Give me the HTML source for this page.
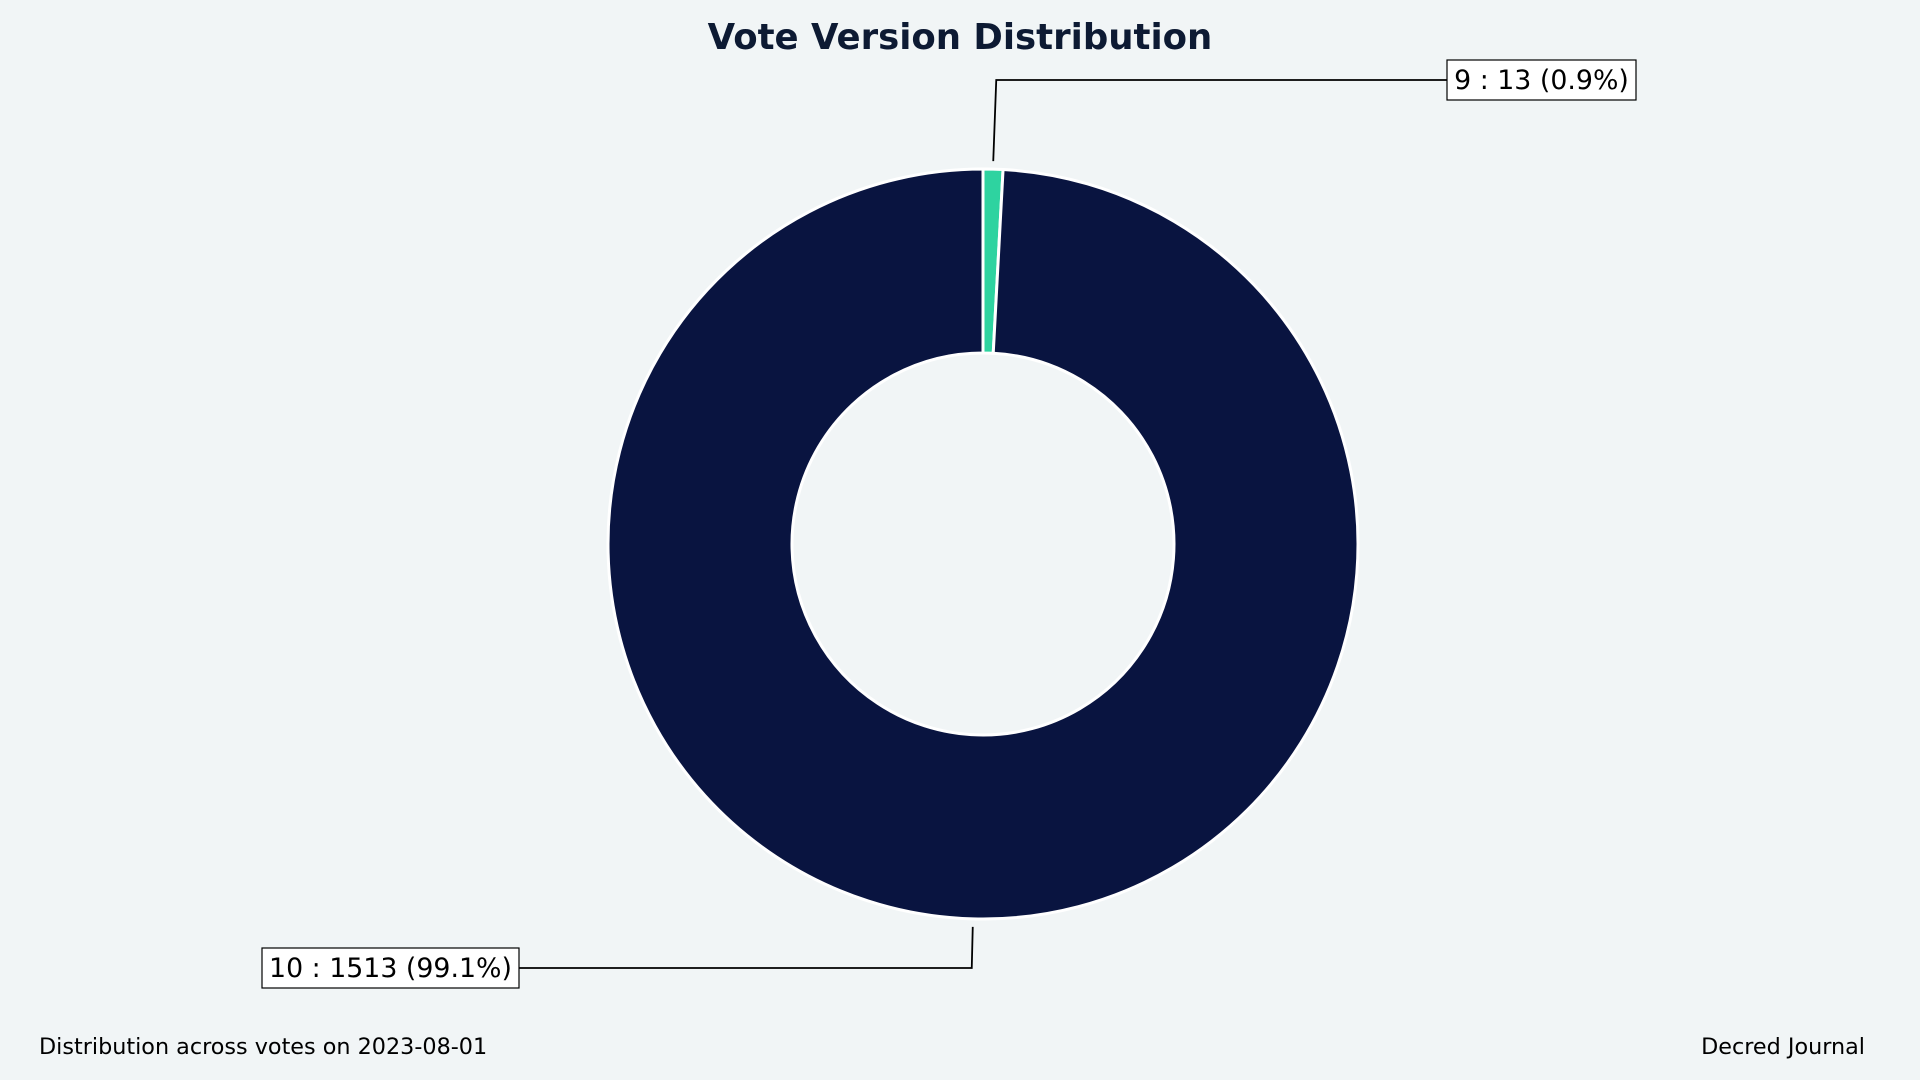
<!DOCTYPE html>
<html><head><meta charset="utf-8"><style>
html,body{margin:0;padding:0;background:#f1f5f6;}
svg{display:block;font-family:"DejaVu Sans","Liberation Sans",sans-serif;}
</style></head><body>
<svg id="chart" width="1920" height="1080" viewBox="0 0 1920 1080">
<rect width="1920" height="1080" fill="#f1f5f6"/>
<text x="960" y="49" text-anchor="middle" font-size="35.5" font-weight="bold" fill="#0d1a33">Vote Version Distribution</text>
<g id="slices"></g>
<g id="labels"></g>
<text x="39" y="1054" font-size="22.3" fill="#000">Distribution across votes on 2023-08-01</text>
<text x="1865" y="1054" text-anchor="end" font-size="22.3" fill="#000">Decred Journal</text>
</svg>
<script>
const categories = ["9", "10"];
const values = [13, 1513];
const colors = ["#2ed3a0", "#091440"];
const cx = 983, cy = 544, R = 375, r = 191;
const NS = "http://www.w3.org/2000/svg";
const total = values.reduce((a,b)=>a+b,0);
const sg = document.getElementById("slices");
const lg = document.getElementById("labels");
function pt(a, rad){ return [cx + rad*Math.sin(a), cy - rad*Math.cos(a)]; }
let start = 0;
const labelPos = [
  {bx:1447, by:60, bw:189, side:"right"},
  {bx:262, by:948, bw:257, side:"left"}
];
values.forEach((v,i)=>{
  const a0 = start, a1 = start + v/total*2*Math.PI;
  start = a1;
  const large = (a1-a0) > Math.PI ? 1 : 0;
  const [x0,y0]=pt(a0,R),[x1,y1]=pt(a1,R),[x2,y2]=pt(a1,r),[x3,y3]=pt(a0,r);
  const p = document.createElementNS(NS,"path");
  p.setAttribute("d",`M${x0},${y0} A${R},${R} 0 ${large} 1 ${x1},${y1} L${x2},${y2} A${r},${r} 0 ${large} 0 ${x3},${y3} Z`);
  p.setAttribute("fill",colors[i]);
  p.setAttribute("stroke","#ffffff");
  p.setAttribute("stroke-width","3");
  
  
  sg.appendChild(p);
  const mid = (a0+a1)/2;
  const [ax,ay] = pt(mid, R+8);
  const L = labelPos[i];
  const ly = L.by + 20;
  const ex = L.side==="right" ? L.bx : L.bx + L.bw;
  const line = document.createElementNS(NS,"polyline");
  line.setAttribute("points",`${ax},${ay} ${ax+ (L.side==="right"?3:-1)},${ly} ${ex},${ly}`);
  line.setAttribute("fill","none");
  line.setAttribute("stroke","#000");
  line.setAttribute("stroke-width","1.8");
  
  
  lg.appendChild(line);
  const box = document.createElementNS(NS,"rect");
  box.setAttribute("x",L.bx); box.setAttribute("y",L.by);
  box.setAttribute("width",L.bw); box.setAttribute("height",40);
  box.setAttribute("fill","#ffffff"); box.setAttribute("stroke","#000"); box.setAttribute("stroke-width","1.2");
  
  
  lg.appendChild(box);
  const t = document.createElementNS(NS,"text");
  t.setAttribute("x", L.bx + L.bw/2); t.setAttribute("y", L.by + 29);
  t.setAttribute("text-anchor","middle"); t.setAttribute("font-size","26.8");
  t.textContent = `${categories[i]} : ${v} (${(v/total*100).toFixed(1)}%)`;
  
  
  lg.appendChild(t);
});
</script>
</body></html>
